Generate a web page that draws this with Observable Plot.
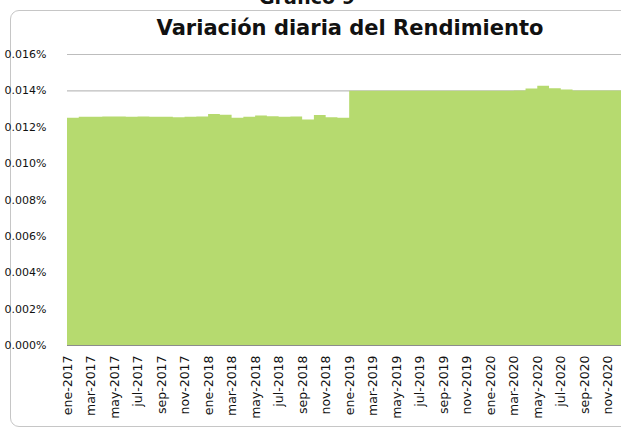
<!DOCTYPE html>
<html><head><meta charset="utf-8">
<script src="https://cdn.jsdelivr.net/npm/d3@7"></script>
<script src="https://cdn.jsdelivr.net/npm/@observablehq/plot@0.6"></script>
<style>
body{margin:0;background:#fff;}
#wrap{position:relative;width:621px;height:430px;overflow:hidden;font-family:"DejaVu Sans",sans-serif;color:#111;}
#frame{position:absolute;left:10px;top:10px;width:700px;height:417px;border:1px solid #c6c6c6;border-radius:9px;box-sizing:border-box;}
#sup{position:absolute;left:0;top:-13px;width:614px;text-align:center;font-weight:bold;font-size:19px;line-height:20px;}
#title{position:absolute;left:0;top:16px;width:700px;text-align:center;font-weight:bold;font-size:21px;line-height:25px;}
#chart{position:absolute;left:0;top:0;}
</style>
</head><body>
<div id="wrap">
  <div id="frame"></div>
  <div id="sup">Gráfico 9</div>
  <div id="title">Variación diaria del Rendimiento</div>
  <div id="chart"></div>
</div>
<script>
const monthLabels = [
  "ene-2017","feb-2017","mar-2017","abr-2017","may-2017","jun-2017","jul-2017","ago-2017","sep-2017","oct-2017","nov-2017","dic-2017",
  "ene-2018","feb-2018","mar-2018","abr-2018","may-2018","jun-2018","jul-2018","ago-2018","sep-2018","oct-2018","nov-2018","dic-2018",
  "ene-2019","feb-2019","mar-2019","abr-2019","may-2019","jun-2019","jul-2019","ago-2019","sep-2019","oct-2019","nov-2019","dic-2019",
  "ene-2020","feb-2020","mar-2020","abr-2020","may-2020","jun-2020","jul-2020","ago-2020","sep-2020","oct-2020","nov-2020","dic-2020"
];
// rendimiento diario (%), promedio por mes
const rendimiento = [
  0.01250,0.01255,0.01255,0.01256,0.01257,0.01255,0.01257,0.01255,0.01255,0.01252,0.01255,0.01256,
  0.01270,0.01266,0.01250,0.01255,0.01262,0.01258,0.01255,0.01256,0.01240,0.01265,0.01252,0.01250,
  0.01398,0.01398,0.01398,0.01398,0.01398,0.01398,0.01398,0.01398,0.01398,0.01398,0.01398,0.01398,
  0.01398,0.01398,0.01400,0.01410,0.01425,0.01412,0.01405,0.01400,0.01400,0.01400,0.01400,0.01400
];
const yTicks = [0,0.002,0.004,0.006,0.008,0.010,0.012,0.014,0.016];
const xTickIdx = monthLabels.map((d,i)=>i).filter(i=>i%2===0);

const data = rendimiento.map((v,i)=>({i, v}));
data.push({i: rendimiento.length, v: rendimiento[rendimiento.length-1]});

const chart = Plot.plot({
  width:621, height:430,
  marginTop:54, marginBottom:85, marginLeft:67, marginRight:0,
  x:{domain:[0,47.12]},
  y:{domain:[0,0.016]},
  style:{fontFamily:"'DejaVu Sans',sans-serif", background:"transparent", color:"#111"},
  marks:[
    Plot.ruleY(yTicks.slice(1), {stroke:"#bdbdbd", strokeWidth:1.2}),
    Plot.areaY(data, {x:"i", y:"v", curve:"step-after", fill:"#b6da6f", clip:true}),
    Plot.ruleY([0], {stroke:"#8c8c8c", strokeWidth:1}),
    Plot.axisY(yTicks, {tickSize:0, tickFormat:d=>d.toFixed(3)+"%", textAnchor:"start", dx:-54, fontSize:11, label:null}),
    Plot.axisX(xTickIdx, {tickSize:0, tickRotate:-90, tickPadding:10, tickFormat:i=>monthLabels[i], fontSize:12.5, label:null})
  ]
});
document.getElementById("chart").appendChild(chart);
</script>
</body></html>
